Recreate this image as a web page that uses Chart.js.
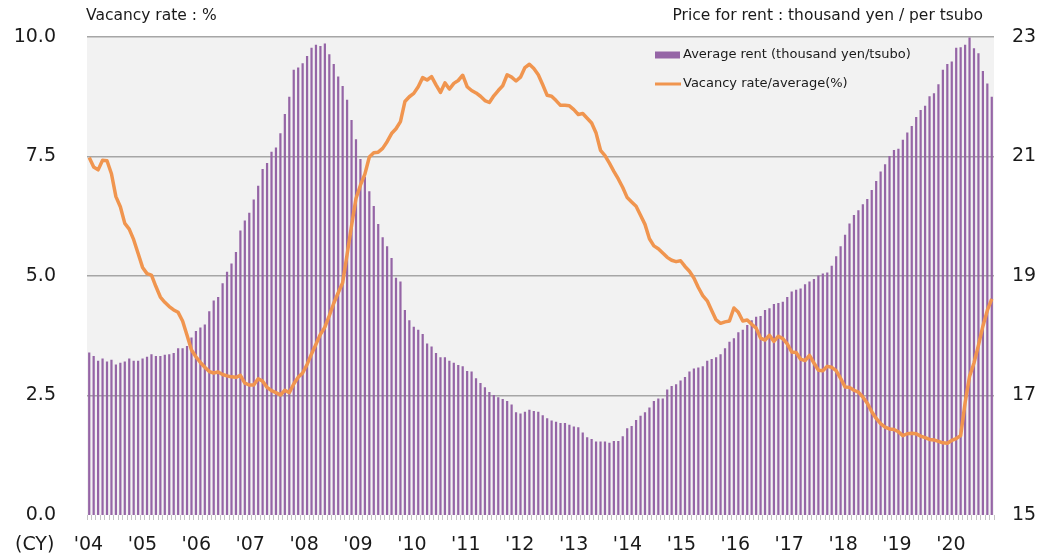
<!DOCTYPE html>
<html>
<head>
<meta charset="utf-8">
<title>Office rent and vacancy rate</title>
<script src="https://cdn.jsdelivr.net/npm/chart.js@4.4.1/dist/chart.umd.min.js"></script>
<style>
  html, body { margin: 0; padding: 0; background: #ffffff; }
  #wrap { width: 1038px; height: 560px; }
</style>
</head>
<body>
<div id="wrap"><canvas id="rentChart" width="1038" height="560"></canvas></div>
<script>
// calendar years on the axis, one bar / point per month
const years = [2004, 2005, 2006, 2007, 2008, 2009, 2010, 2011, 2012, 2013, 2014, 2015, 2016, 2017, 2018, 2019, 2020];
const yearLabels = ["'04", "'05", "'06", "'07", "'08", "'09", "'10", "'11", "'12", "'13", "'14", "'15", "'16", "'17", "'18", "'19", "'20"];

// average rent, thousand yen per tsubo (Jan..Dec each row)
const rent = [
  17.72, 17.66, 17.58, 17.62, 17.57, 17.60, 17.52, 17.55, 17.57, 17.62, 17.58, 17.58, // 2004
  17.62, 17.65, 17.69, 17.66, 17.66, 17.68, 17.69, 17.71, 17.79, 17.79, 17.83, 17.97, // 2005
  18.08, 18.14, 18.19, 18.41, 18.59, 18.65, 18.88, 19.07, 19.21, 19.40, 19.76, 19.93, // 2006
  20.06, 20.28, 20.51, 20.79, 20.89, 21.08, 21.15, 21.39, 21.71, 22.00, 22.45, 22.49, // 2007
  22.56, 22.68, 22.82, 22.87, 22.85, 22.89, 22.71, 22.55, 22.34, 22.18, 21.95, 21.61, // 2008
  21.29, 20.96, 20.66, 20.42, 20.17, 19.87, 19.65, 19.50, 19.30, 18.97, 18.91, 18.43, // 2009
  18.26, 18.15, 18.10, 18.03, 17.87, 17.82, 17.71, 17.64, 17.64, 17.58, 17.55, 17.51, // 2010
  17.49, 17.41, 17.40, 17.29, 17.21, 17.14, 17.06, 17.01, 16.97, 16.94, 16.91, 16.85, // 2011
  16.72, 16.70, 16.73, 16.76, 16.74, 16.73, 16.67, 16.62, 16.58, 16.56, 16.54, 16.54, // 2012
  16.51, 16.48, 16.47, 16.38, 16.30, 16.27, 16.23, 16.23, 16.23, 16.21, 16.24, 16.24, // 2013
  16.32, 16.45, 16.49, 16.59, 16.66, 16.72, 16.80, 16.91, 16.95, 16.95, 17.10, 17.16, // 2014
  17.19, 17.25, 17.31, 17.40, 17.45, 17.47, 17.49, 17.58, 17.61, 17.64, 17.69, 17.79, // 2015
  17.90, 17.96, 18.06, 18.10, 18.18, 18.26, 18.32, 18.33, 18.43, 18.46, 18.53, 18.55, // 2016
  18.57, 18.65, 18.74, 18.77, 18.79, 18.86, 18.91, 18.95, 19.01, 19.04, 19.06, 19.17, // 2017
  19.33, 19.50, 19.69, 19.88, 20.02, 20.10, 20.20, 20.29, 20.44, 20.59, 20.75, 20.87, // 2018
  21.01, 21.11, 21.13, 21.28, 21.40, 21.51, 21.66, 21.78, 21.85, 22.01, 22.06, 22.21, // 2019
  22.45, 22.55, 22.59, 22.82, 22.83, 22.87, 22.99, 22.81, 22.73, 22.43, 22.22, 22.00  // 2020
];

// vacancy rate, %
const vacancy = [
  7.48, 7.28, 7.22, 7.42, 7.41, 7.14, 6.66, 6.45, 6.10, 5.98, 5.76, 5.47, // 2004
  5.18, 5.05, 5.02, 4.78, 4.56, 4.45, 4.36, 4.29, 4.24, 4.06, 3.76, 3.45, // 2005
  3.31, 3.19, 3.09, 3.00, 2.97, 2.99, 2.94, 2.91, 2.89, 2.88, 2.92, 2.76, // 2006
  2.72, 2.72, 2.85, 2.80, 2.67, 2.60, 2.56, 2.51, 2.61, 2.56, 2.74, 2.88, // 2007
  2.97, 3.15, 3.37, 3.57, 3.78, 3.93, 4.17, 4.43, 4.65, 4.86, 5.45, 6.05, // 2008
  6.62, 6.90, 7.13, 7.49, 7.58, 7.59, 7.67, 7.81, 7.98, 8.08, 8.23, 8.65, // 2009
  8.75, 8.82, 8.96, 9.15, 9.10, 9.17, 9.00, 8.84, 9.04, 8.91, 9.03, 9.09, // 2010
  9.20, 8.96, 8.88, 8.83, 8.76, 8.67, 8.63, 8.77, 8.88, 8.98, 9.21, 9.16, // 2011
  9.08, 9.16, 9.36, 9.43, 9.34, 9.21, 9.00, 8.78, 8.76, 8.67, 8.57, 8.57, // 2012
  8.56, 8.48, 8.38, 8.40, 8.30, 8.20, 7.99, 7.63, 7.52, 7.36, 7.19, 7.03, // 2013
  6.85, 6.64, 6.55, 6.46, 6.27, 6.08, 5.78, 5.63, 5.57, 5.48, 5.39, 5.33, // 2014
  5.30, 5.32, 5.20, 5.10, 4.96, 4.76, 4.59, 4.48, 4.28, 4.08, 4.01, 4.04, // 2015
  4.06, 4.33, 4.24, 4.06, 4.08, 3.99, 3.91, 3.70, 3.66, 3.76, 3.63, 3.74, // 2016
  3.69, 3.58, 3.41, 3.40, 3.26, 3.23, 3.34, 3.18, 3.03, 3.02, 3.11, 3.09, // 2017
  3.02, 2.86, 2.68, 2.67, 2.61, 2.57, 2.47, 2.34, 2.16, 2.02, 1.91, 1.84, // 2018
  1.80, 1.79, 1.74, 1.66, 1.70, 1.71, 1.70, 1.65, 1.62, 1.58, 1.57, 1.54, // 2019
  1.51, 1.50, 1.56, 1.60, 1.66, 2.35, 2.90, 3.18, 3.55, 3.95, 4.28, 4.52  // 2020
];

const months = [];
years.forEach(y => {
  for (let m = 1; m <= 12; m++) months.push(y + '-' + String(m).padStart(2, '0'));
});

const RENT_COLOR = '#9565A6';
const VACANCY_COLOR = '#F0954F';
const TEXT_COLOR = '#1a1a1a';
const FONT = '"DejaVu Sans", Verdana, sans-serif';

Chart.defaults.font.family = FONT;
Chart.defaults.color = TEXT_COLOR;

// grey plot background, unit captions and the in-plot legend
const chartDecor = {
  id: 'chartDecor',
  beforeDraw(chart) {
    const { ctx, chartArea: a } = chart;
    ctx.save();
    ctx.fillStyle = '#F2F2F2';
    ctx.fillRect(a.left, a.top, a.right - a.left, a.bottom - a.top);
    ctx.restore();
  },
  afterDraw(chart) {
    const { ctx, chartArea: a } = chart;
    ctx.save();
    ctx.fillStyle = TEXT_COLOR;
    ctx.textBaseline = 'middle';

    ctx.font = '15.5px ' + FONT;
    ctx.textAlign = 'left';
    ctx.fillText('Vacancy rate : %', a.left - 1, 16);
    ctx.textAlign = 'right';
    ctx.fillText('Price for rent : thousand yen / per tsubo', a.right - 11, 16);

    ctx.font = '19px ' + FONT;
    ctx.textAlign = 'left';
    ctx.fillText('(CY)', 15, 545);

    const lx = a.left + 568;
    const ly = a.top + 18;
    ctx.font = '13px ' + FONT;
    chart.data.datasets.forEach((ds, k) => {
      const y = ly + k * 29;
      if (ds.type === 'bar') {
        ctx.fillStyle = ds.backgroundColor;
        ctx.fillRect(lx, y - 3.5, 25, 7);
      } else {
        ctx.strokeStyle = ds.borderColor;
        ctx.lineWidth = 3;
        ctx.beginPath();
        ctx.moveTo(lx, y);
        ctx.lineTo(lx + 26, y);
        ctx.stroke();
      }
      ctx.fillStyle = TEXT_COLOR;
      ctx.fillText(ds.label, lx + 28, y);
    });
    ctx.restore();
  }
};

// fixed axis box sizes; the label padding should not push the plot down
function fixWidth(w) {
  return s => {
    s.width = w;
    s.paddingTop = 0;
    s.paddingBottom = 0;
  };
}

const ctx = document.getElementById('rentChart').getContext('2d');
const rentChart = new Chart(ctx, {
  data: {
    labels: months,
    datasets: [
      {
        type: 'bar',
        label: 'Average rent (thousand yen/tsubo)',
        data: rent,
        yAxisID: 'y2',
        backgroundColor: RENT_COLOR,
        barPercentage: 0.5,
        categoryPercentage: 1.0,
        order: 2
      },
      {
        type: 'line',
        label: 'Vacancy rate/average(%)',
        data: vacancy,
        yAxisID: 'y',
        borderColor: VACANCY_COLOR,
        borderWidth: 3.5,
        pointRadius: 0,
        tension: 0,
        borderJoinStyle: 'round',
        order: 1
      }
    ]
  },
  options: {
    responsive: false,
    devicePixelRatio: 1,
    animation: false,
    layout: { padding: { top: 37, left: 0, right: 0, bottom: 0 } },
    plugins: {
      legend: { display: false },
      tooltip: { enabled: false }
    },
    scales: {
      x: {
        type: 'category',
        offset: true,
        weight: 0,
        grid: { display: true, drawOnChartArea: false, drawTicks: true, tickLength: 5, color: '#C4C4C4', offset: true },
        border: { display: false },
        ticks: { display: false },
        afterFit(s) { s.height = 5; }
      },
      // year captions sit on their own evenly spaced axis under the month ticks
      years: {
        type: 'linear',
        position: 'bottom',
        axis: 'x',
        weight: 1,
        min: -1.5 / 53.9,
        max: 905.5 / 53.9,
        grid: { display: false, drawTicks: false },
        border: { display: false },
        ticks: {
          stepSize: 1,
          includeBounds: false,
          autoSkip: false,
          maxRotation: 0,
          padding: 14,
          font: { size: 19 },
          color: TEXT_COLOR,
          callback: v => yearLabels[v] ?? ''
        },
        afterFit(s) { s.height = 40; }
      },
      y: {
        position: 'left',
        min: 0,
        max: 10,
        grid: {
          color: c => c.tick.value === 0 ? 'rgba(0,0,0,0)' : '#A6A6A6',
          lineWidth: 1.5,
          drawTicks: false
        },
        border: { display: false },
        ticks: {
          stepSize: 2.5,
          padding: 31,
          font: { size: 19 },
          color: TEXT_COLOR,
          callback: v => v.toFixed(1)
        },
        afterFit: fixWidth(87)
      },
      y2: {
        position: 'right',
        min: 15,
        max: 23,
        grid: { display: false, drawTicks: false },
        border: { display: false },
        ticks: {
          stepSize: 2,
          padding: 18,
          font: { size: 19 },
          color: TEXT_COLOR
        },
        afterFit: fixWidth(44)
      }
    }
  },
  plugins: [chartDecor]
});
</script>
</body>
</html>
